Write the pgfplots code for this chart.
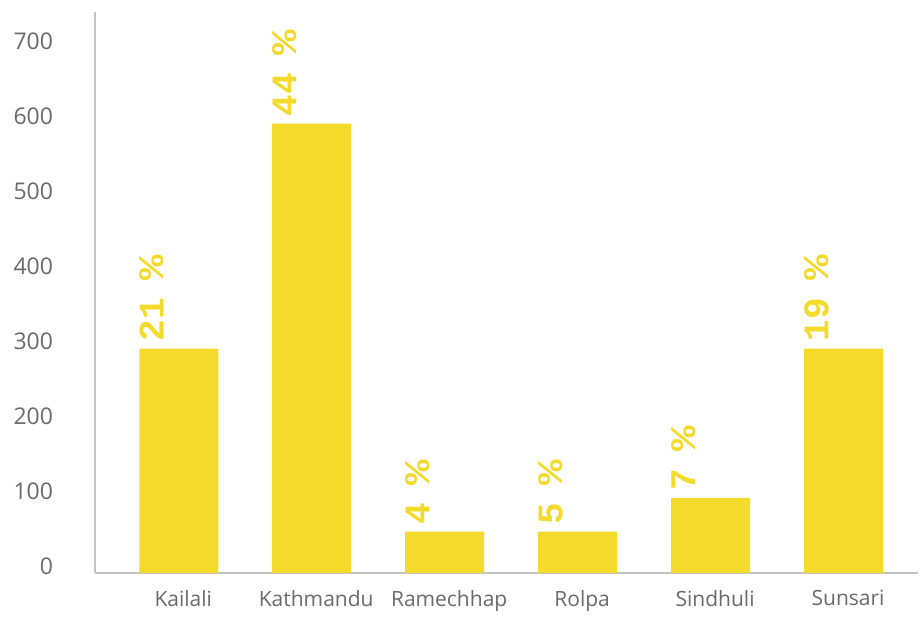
\documentclass[border=0pt]{standalone}
\usepackage{graphicx}
\usepackage{pgfplots}
\pgfplotsset{compat=1.18}
\usepackage{fontspec}
\setmainfont{Open Sans}
\newfontfamily\labfont{Liberation Mono}
\definecolor{baryellow}{HTML}{F3DA2B}
\definecolor{tickgray}{HTML}{6A6A6A}
\definecolor{axgray}{HTML}{C4C4C4}
\newcommand{\pc}{\kern-4pt\scalebox{1.18}[1]{\%}}
\begin{document}
\begin{tikzpicture}
\useasboundingbox (0,0) rectangle (920pt,617pt);
\begin{axis}[
  at={(95pt,44pt)}, anchor=south west,
  scale only axis, width=823pt, height=561pt,
  xmin=-0.63, xmax=5.56, ymin=0, ymax=748,
  axis x line*=bottom, axis y line*=left,
  axis line style={axgray, line width=1.2pt},
  major tick length=0pt,
  xtick={0,1,2,3,4,5},
  xticklabels={Kailali,Kathmandu,Ramechhap,Rolpa,Sindhuli,Sunsari},
  ytick={0,100,200,300,400,500,600,700},
  /pgf/number format/assume math mode=true,
  tick label style={color=tickgray},
  xticklabel style={font=\fontsize{21}{25}\selectfont, yshift=-14pt, xshift=4.5pt},
  yticklabel style={font=\fontsize{23}{27}\selectfont, anchor=east, xshift=-38.5pt, yshift=7pt},
  ybar, bar width=79pt,
  point meta=explicit symbolic,
  nodes near coords,
  every node near coord/.style={font=\labfont\bfseries\fontsize{36}{40}\selectfont, color=baryellow, xshift=-39.5pt, yshift=7pt, rotate=90, anchor=north west, inner sep=0pt},
]
\addplot[fill=baryellow, draw=none] coordinates {
  (0,299) [21 \pc]
  (1,599) [44 \pc]
  (2,55) [4 \pc]
  (3,55) [5 \pc]
  (4,100) [7 \pc]
  (5,299) [19 \pc]
};
\end{axis}
\end{tikzpicture}
\end{document}
